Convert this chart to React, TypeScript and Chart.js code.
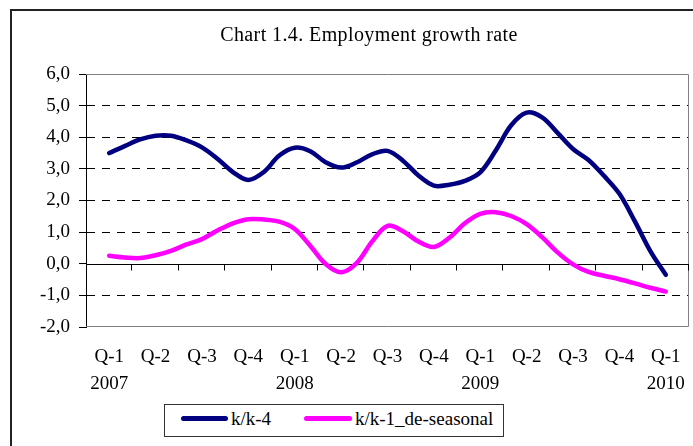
import React, { useEffect, useRef } from 'react';
import { Chart, registerables } from 'chart.js';

Chart.register(...registerables);

// Category (quarter) tick labels
const quarterLabels: string[][] = [
  ['Q-1', '2007'], ['Q-2'], ['Q-3'], ['Q-4'],
  ['Q-1', '2008'], ['Q-2'], ['Q-3'], ['Q-4'],
  ['Q-1', '2009'], ['Q-2'], ['Q-3'], ['Q-4'],
  ['Q-1', '2010'],
];

// Monthly readings, Q-1 2007 ... Q-1 2010 (three per quarter)
const kk4: number[] = [
  3.5, 3.72, 3.93, 4.05, 4.05, 3.9, 3.68, 3.32, 2.9, 2.65, 2.9, 3.42,
  3.67, 3.56, 3.21, 3.04, 3.2, 3.46, 3.57, 3.26, 2.79, 2.47, 2.5, 2.62,
  2.89, 3.58, 4.38, 4.78, 4.63, 4.14, 3.63, 3.28, 2.78, 2.21, 1.34, 0.4,
  -0.35,
];

const kk1Deseasonal: number[] = [
  0.25, 0.2, 0.18, 0.27, 0.41, 0.61, 0.78, 1.05, 1.28, 1.41, 1.4, 1.33,
  1.1, 0.57, -0.01, -0.27, 0.02, 0.7, 1.2, 1.03, 0.7, 0.53, 0.82, 1.28,
  1.58, 1.63, 1.51, 1.25, 0.84, 0.36, -0.02, -0.26, -0.38, -0.49, -0.62, -0.76,
  -0.88,
];

const seriesNames = ['k/k-4', 'k/k-1_de-seasonal'];
const seriesColors = ['#000080', '#FF00FF'];

const yTicks = { min: -2, max: 6, step: 1 };

const FONT = "'Liberation Serif', 'Times New Roman', serif";

// position in quarter units of the i-th monthly reading
const toPoints = (vals: number[]) => vals.map((v, i) => ({ x: i / 3, y: v }));

const framePlugin = {
  id: 'frameAndZeroAxis',
  beforeDatasetsDraw(chart: any) {
    const { ctx, chartArea: a, scales } = chart;
    ctx.save();
    ctx.lineWidth = 1;
    ctx.strokeStyle = '#808080';
    ctx.beginPath();
    ctx.moveTo(a.left, Math.round(a.top) + 0.5);
    ctx.lineTo(Math.round(a.right) - 0.5, Math.round(a.top) + 0.5);
    ctx.lineTo(Math.round(a.right) - 0.5, Math.round(a.bottom) - 0.5);
    ctx.lineTo(a.left, Math.round(a.bottom) - 0.5);
    ctx.stroke();

    const yz = Math.round(scales.y.getPixelForValue(0)) + 0.5;
    ctx.strokeStyle = '#000';
    ctx.beginPath();
    ctx.moveTo(a.left, yz);
    ctx.lineTo(a.right, yz);
    for (let k = 0; k < quarterLabels.length; k++) {
      const xp = Math.round(scales.xq.getPixelForValue(k + 0.5)) - 0.5;
      ctx.moveTo(xp, yz);
      ctx.lineTo(xp, yz + 6);
    }
    ctx.stroke();
    ctx.restore();
  },
};

export default function App() {
  const canvasRef = useRef<HTMLCanvasElement | null>(null);

  useEffect(() => {
    if (!canvasRef.current) return;
    const edge = (v: number) => v === 0 || v === yTicks.min || v === yTicks.max;
    const chart = new Chart(canvasRef.current, {
      type: 'line',
      data: {
        labels: quarterLabels as any,
        datasets: [
          {
            label: seriesNames[0],
            data: toPoints(kk4),
            xAxisID: 'xq',
            borderColor: seriesColors[0],
            backgroundColor: seriesColors[0],
            borderWidth: 4.5,
            pointRadius: 0,
            tension: 0.35,
            borderCapStyle: 'round',
            borderJoinStyle: 'round',
            fill: false,
          },
          {
            label: seriesNames[1],
            data: toPoints(kk1Deseasonal),
            xAxisID: 'xq',
            borderColor: seriesColors[1],
            backgroundColor: seriesColors[1],
            borderWidth: 4.5,
            pointRadius: 0,
            tension: 0.35,
            borderCapStyle: 'round',
            borderJoinStyle: 'round',
            fill: false,
          },
        ],
      },
      options: {
        animation: false,
        responsive: false,
        maintainAspectRatio: false,
        layout: { padding: { top: 74, right: 4, bottom: 0, left: 0 } },
        plugins: {
          legend: { display: false },
          title: { display: false },
          tooltip: { enabled: false },
        },
        scales: {
          x: {
            type: 'category',
            offset: true,
            grid: { display: false, drawTicks: false },
            border: { display: false },
            ticks: {
              autoSkip: false,
              maxRotation: 0,
              minRotation: 0,
              padding: 17,
              color: '#000',
              font: { family: FONT, size: 19, lineHeight: 1.4 },
            },
            afterFit: (s: any) => {
              s.height = 119;
              s.paddingLeft = 0;
              s.paddingRight = 0;
            },
          },
          xq: {
            type: 'linear',
            display: false,
            min: -0.5,
            max: quarterLabels.length - 0.5,
          },
          y: {
            min: yTicks.min,
            max: yTicks.max,
            ticks: {
              stepSize: yTicks.step,
              padding: 9,
              color: '#000',
              font: { family: FONT, size: 19 },
              callback: (v: any) => Number(v).toFixed(1).replace('.', ','),
            },
            grid: {
              color: (c: any) => (c.tick && edge(c.tick.value) ? 'rgba(0,0,0,0)' : '#000'),
              lineWidth: 1,
              tickLength: 7,
              tickColor: '#000',
              tickWidth: 1,
              tickBorderDash: [],
            },
            border: {
              display: true,
              color: '#000',
              width: 1,
              dash: (c: any) => (c.tick ? (edge(c.tick.value) ? [] : [8, 7]) : []),
            },
            afterFit: (s: any) => {
              s.width = 86;
            },
          },
        },
      },
      plugins: [framePlugin],
    } as any);
    return () => chart.destroy();
  }, []);

  const textStyle: React.CSSProperties = {
    position: 'absolute',
    fontFamily: FONT,
    fontSize: 19,
    lineHeight: '22px',
    color: '#000',
    whiteSpace: 'nowrap',
  };

  return (
    <div
      style={{
        position: 'fixed',
        left: 0,
        top: 0,
        width: 693,
        height: 446,
        overflow: 'hidden',
        background: '#fff',
      }}
    >
      <div
        style={{
          position: 'absolute',
          left: 10,
          top: 9,
          width: 800,
          height: 600,
          border: '2px solid #222',
          boxSizing: 'border-box',
        }}
      />
      <canvas
        ref={canvasRef}
        width={693}
        height={446}
        style={{ position: 'absolute', left: 0, top: 0, width: 693, height: 446 }}
      />
      <div
        style={{
          position: 'absolute',
          left: 369,
          top: 22,
          transform: 'translateX(-50%)',
          fontFamily: FONT,
          fontSize: 20,
          lineHeight: '24px',
          letterSpacing: '0.4px',
          color: '#000',
          whiteSpace: 'nowrap',
        }}
      >
        Chart 1.4. Employment growth rate
      </div>
      <div
        style={{
          position: 'absolute',
          left: 164,
          top: 404,
          width: 340,
          height: 33,
          border: '1px solid #333',
          boxSizing: 'border-box',
          background: '#fff',
        }}
      />
      <div
        style={{
          position: 'absolute',
          left: 181,
          top: 415.5,
          width: 47,
          height: 5,
          borderRadius: 2.5,
          background: seriesColors[0],
        }}
      />
      <div style={{ ...textStyle, left: 231, top: 408 }}>{seriesNames[0]}</div>
      <div
        style={{
          position: 'absolute',
          left: 304,
          top: 415.5,
          width: 48,
          height: 5,
          borderRadius: 2.5,
          background: seriesColors[1],
        }}
      />
      <div style={{ ...textStyle, left: 355, top: 408 }}>{seriesNames[1]}</div>
    </div>
  );
}
